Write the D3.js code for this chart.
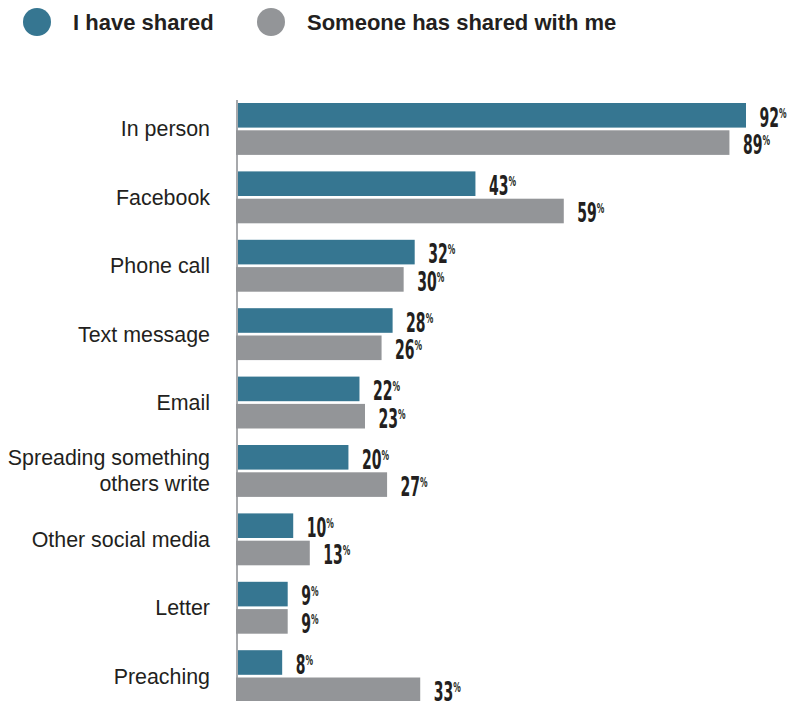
<!DOCTYPE html>
<html lang="en">
<head>
<meta charset="utf-8">
<script src="https://cdn.jsdelivr.net/npm/d3@7"></script>
<style>
  body { margin: 0; background: #fff; }
  text { font-family: "Liberation Sans", Arial, sans-serif; fill: #231f20; }
  .val { font-family: "DejaVu Sans", sans-serif; font-weight: bold; }
</style>
<title>Sharing</title>
</head>
<body>
<script>
var categories = ["In person", "Facebook", "Phone call", "Text message", "Email",
  "Spreading something|others write", "Other social media", "Letter", "Preaching"];
var series = ["I have shared", "Someone has shared with me"];
var haveShared = [92, 43, 32, 28, 22, 20, 10, 9, 8];
var sharedWithMe = [89, 59, 30, 26, 23, 27, 13, 9, 33];
var colors = ["#367691", "#939598"];

var w = 788, h = 701;
var svg = d3.select("body").append("svg").attr("width", w).attr("height", h);

var x0 = 238;
var xScale = d3.scaleLinear().domain([0, 92]).range([x0, 746]);
var yScale = d3.scaleBand().domain(categories).range([103, 103 + 9 * 68.4]);
var barH = 24.6, barGap = 2.7;

// axis line
svg.append("line")
  .attr("x1", 237).attr("x2", 237)
  .attr("y1", 100).attr("y2", h)
  .attr("stroke", "#a7a9ac").attr("stroke-width", 2);

var rows = categories.map(function(c, i) { return {cat: c, vals: [haveShared[i], sharedWithMe[i]]}; });

var g = svg.selectAll("g.row").data(rows).enter().append("g").attr("class", "row")
  .attr("transform", function(d) { return "translate(0," + yScale(d.cat) + ")"; });

g.selectAll("rect").data(function(d) { return d.vals; }).enter().append("rect")
  .attr("x", function(d, i) { return i ? x0 - 2 : x0; })
  .attr("y", function(d, i) { return i * (barH + barGap); })
  .attr("width", function(d, i) { return xScale(d) - x0 + (i ? 2 : 0); })
  .attr("height", barH)
  .attr("fill", function(d, i) { return colors[i]; });

// condensed value labels
var vt = g.selectAll("text.val").data(function(d) { return d.vals; }).enter().append("text")
  .attr("class", "val")
  .attr("transform", function(d, i) {
    return "translate(" + (xScale(d) + 13.5) + "," + (i * (barH + barGap) + barH - 1) + ") scale(0.54,1)";
  })
  .style("font-size", "26px");
vt.append("tspan").text(function(d) { return d; });
vt.append("tspan").attr("dy", -9).style("font-size", "14px").text("%");

g.append("text")
  .attr("text-anchor", "end")
  .style("font-size", "21.4px")
  .each(function(d) {
    var lines = d.cat.split("|");
    var t = d3.select(this);
    var mid = barH + barGap / 2;
    lines.forEach(function(l, k) {
      t.append("tspan").attr("x", 210)
        .attr("y", mid + 7.5 + (k - (lines.length - 1) / 2) * 26)
        .text(l);
    });
  });

// legend
var leg = svg.selectAll("g.leg").data(series).enter().append("g").attr("class", "leg")
  .attr("transform", function(d, i) { return "translate(" + [37, 271][i] + ",22)"; });
leg.append("circle").attr("r", 14)
  .attr("fill", function(d, i) { return colors[i]; });
leg.append("text").attr("x", 36).attr("y", 8)
  .style("font-size", "22px").style("font-weight", "bold")
  .text(function(d) { return d; });
</script>
</body>
</html>
